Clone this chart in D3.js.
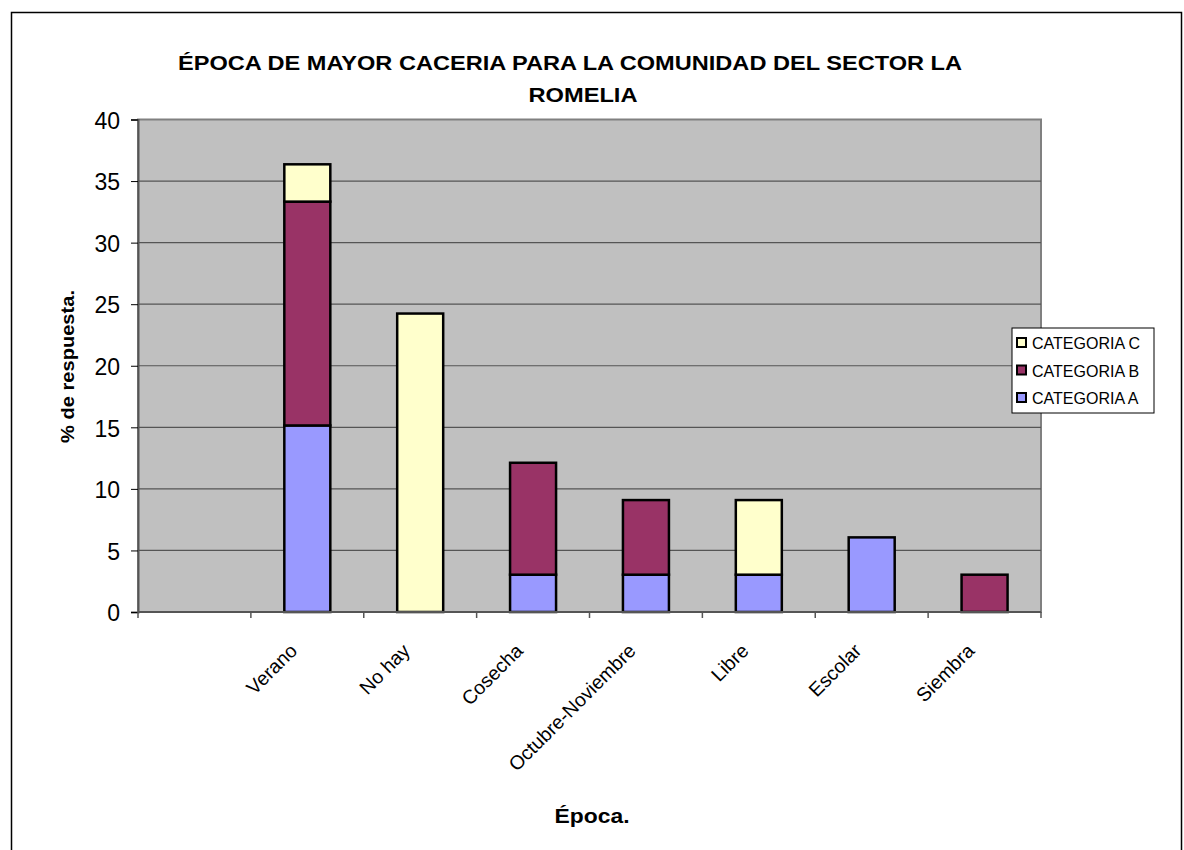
<!DOCTYPE html>
<html><head><meta charset="utf-8">
<script src="https://cdn.jsdelivr.net/npm/d3@7"></script>
<style>body{margin:0;background:#fff}svg{display:block;font-family:"Liberation Sans",Arial,sans-serif}</style>
</head><body>
<script>
const categories = ["", "Verano", "No hay", "Cosecha", "Octubre-Noviembre", "Libre", "Escolar", "Siembra"];
const seriesNames = ["CATEGORIA A", "CATEGORIA B", "CATEGORIA C"];
const catA = [0, 15.15, 0, 3.03, 3.03, 3.03, 6.06, 0];
const catB = [0, 18.18, 0, 9.09, 6.06, 0, 0, 3.03];
const catC = [0, 3.03, 24.24, 0, 0, 6.06, 0, 0];
const yTicks = [0, 5, 10, 15, 20, 25, 30, 35, 40];
const colors = ["#9999FF", "#993366", "#FFFFCC"];

const W = 1184, H = 850;
const svg = d3.select("body").append("svg").attr("width", W).attr("height", H);
svg.append("rect").attr("x", 11.5).attr("y", 12.5).attr("width", 1170).attr("height", 860)
  .attr("fill", "#fff").attr("stroke", "#000").attr("stroke-width", 1.5);

const L = 138, R = 1041, T = 119.5, B = 612;
const x = d3.scaleBand().domain(categories.map((c, i) => i)).range([L, R]).paddingInner(0).paddingOuter(0);
const y = d3.scaleLinear().domain([0, 40]).range([B, T]);

svg.append("rect").attr("x", L).attr("y", T).attr("width", R - L).attr("height", B - T)
  .attr("fill", "#C0C0C0").attr("stroke", "#808080").attr("stroke-width", 2);

svg.append("g").selectAll("line").data(yTicks.filter(t => t > 0 && t < 40)).join("line")
  .attr("x1", L).attr("x2", R).attr("y1", d => y(d)).attr("y2", d => y(d))
  .attr("stroke", "#555").attr("stroke-width", 1.2);

const data = categories.map((c, i) => ({i, A: catA[i], B: catB[i], C: catC[i]}));
const stack = d3.stack().keys(["A", "B", "C"])(data);
const bw = 46;
stack.forEach((s, k) => {
  svg.append("g").selectAll("rect").data(s.filter(d => d[1] - d[0] > 0)).join("rect")
    .attr("x", d => x(d.data.i) + x.bandwidth() / 2 - bw / 2)
    .attr("y", d => y(d[1]))
    .attr("width", bw)
    .attr("height", d => y(d[0]) - y(d[1]))
    .attr("fill", colors[k]).attr("stroke", "#000").attr("stroke-width", 2.5);
});

// Y axis
const yAxis = svg.append("g").attr("transform", `translate(${L},0)`)
  .call(d3.axisLeft(y).tickValues(yTicks).tickSize(7).tickPadding(11).tickFormat(d3.format("d")));
yAxis.select(".domain").attr("stroke", "#555").attr("stroke-width", 2);
yAxis.selectAll(".tick line").attr("stroke", "#000");
yAxis.selectAll("text").attr("font-size", 23).attr("fill", "#000").attr("font-family", "Liberation Sans, Arial").attr("dy", "0.38em");

// X axis
const xAxis = svg.append("g").attr("transform", `translate(0,${B})`);
xAxis.append("line").attr("x1", L).attr("x2", R).attr("y1", 0).attr("y2", 0).attr("stroke", "#555").attr("stroke-width", 2);
const tickPos = categories.map((c, i) => x(i)).concat([R]);
xAxis.selectAll(".tk").data(tickPos).join("line").attr("class", "tk")
  .attr("x1", d => d).attr("x2", d => d).attr("y1", 0).attr("y2", 6).attr("stroke", "#555").attr("stroke-width", 1.5);
xAxis.selectAll(".lbl").data(categories.map((c, i) => ({c, i})).filter(d => d.c)).join("text").attr("class", "lbl")
  .attr("transform", d => `translate(${x(d.i) + x.bandwidth() / 2 - 9},${40}) rotate(-45)`)
  .attr("text-anchor", "end").attr("font-size", 19.5).attr("fill", "#000").text(d => d.c);

// Title
svg.append("text").attr("x", 570).attr("y", 70).attr("text-anchor", "middle").attr("font-weight", "bold").attr("font-size", 21)
  .attr("textLength", 784).attr("lengthAdjust", "spacingAndGlyphs")
  .text("ÉPOCA DE MAYOR CACERIA PARA LA COMUNIDAD DEL SECTOR LA");
svg.append("text").attr("x", 583).attr("y", 102).attr("text-anchor", "middle").attr("font-weight", "bold").attr("font-size", 21)
  .attr("textLength", 109).attr("lengthAdjust", "spacingAndGlyphs").text("ROMELIA");

svg.append("text").attr("x", 592).attr("y", 823).attr("text-anchor", "middle").attr("font-weight", "bold").attr("font-size", 20)
  .attr("textLength", 75).attr("lengthAdjust", "spacingAndGlyphs").text("Época.");
svg.append("text").attr("transform", `translate(74,366.5) rotate(-90)`).attr("text-anchor", "middle")
  .attr("font-weight", "bold").attr("font-size", 19).attr("textLength", 153).attr("lengthAdjust", "spacingAndGlyphs")
  .text("% de respuesta.");

// Legend
const lg = svg.append("g");
lg.append("rect").attr("x", 1012).attr("y", 328).attr("width", 142).attr("height", 85).attr("fill", "#fff").attr("stroke", "#000").attr("stroke-width", 1);
const order = [2, 1, 0];
order.forEach((k, j) => {
  const yy = 343 + j * 27.5;
  lg.append("rect").attr("x", 1017).attr("y", yy - 5).attr("width", 9).attr("height", 9).attr("fill", colors[k]).attr("stroke", "#000").attr("stroke-width", 2);
  lg.append("text").attr("x", 1032).attr("y", yy + 6).attr("font-size", 16).text(seriesNames[k]);
});
</script>
</body></html>
